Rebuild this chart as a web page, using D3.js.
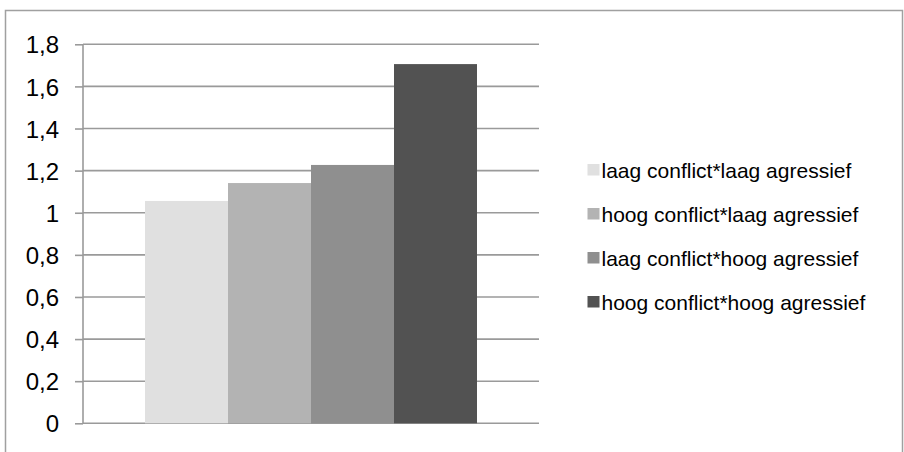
<!DOCTYPE html>
<html>
<head>
<meta charset="utf-8">
<script src="https://cdn.jsdelivr.net/npm/d3@7"></script>
<style>
  html, body { margin: 0; padding: 0; background: #fff; }
  svg { display: block; font-family: "Liberation Sans", Arial, sans-serif; }
</style>
</head>
<body>
<svg id="chart" width="904" height="452"></svg>
<script>
// Series: one bar per combination of conflict and aggression level
const categories = [
  "laag conflict*laag agressief",
  "hoog conflict*laag agressief",
  "laag conflict*hoog agressief",
  "hoog conflict*hoog agressief"
];
const values = [1.056, 1.141, 1.227, 1.706];
const colors = ["#e0e0e0", "#b3b3b3", "#8f8f8f", "#525252"];
const yTicks = [0, 0.2, 0.4, 0.6, 0.8, 1, 1.2, 1.4, 1.6, 1.8];

const svg = d3.select("#chart");

// Outer chart frame
svg.append("rect")
  .attr("x", 5.5).attr("y", 10.5)
  .attr("width", 897).attr("height", 460)
  .attr("fill", "#fff")
  .attr("stroke", "#a0a0a0")
  .attr("stroke-width", 1.5);

const plot = { left: 83, right: 539, top: 44.3, bottom: 423.3 };

const y = d3.scaleLinear().domain([0, 1.8]).range([plot.bottom, plot.top]);
const x = d3.scaleBand()
  .domain(categories)
  .range([145, 477])
  .padding(0);

// Horizontal gridlines
svg.append("g")
  .selectAll("line")
  .data(yTicks)
  .join("line")
  .attr("x1", plot.left).attr("x2", plot.right)
  .attr("y1", d => y(d)).attr("y2", d => y(d))
  .attr("stroke", "#9a9a9a")
  .attr("stroke-width", 1.6);

// Bars
svg.append("g")
  .selectAll("rect")
  .data(categories)
  .join("rect")
  .attr("x", d => x(d))
  .attr("width", x.bandwidth())
  .attr("y", (d, i) => y(values[i]))
  .attr("height", (d, i) => y(0) - y(values[i]))
  .attr("fill", (d, i) => colors[i]);

// Y axis with outward ticks
const yAxis = d3.axisLeft(y)
  .tickValues(yTicks)
  .tickSize(8)
  .tickPadding(16)
  .tickFormat(d => String(d).replace(".", ","));

const ag = svg.append("g")
  .attr("transform", `translate(${plot.left},0)`)
  .call(yAxis);
ag.select(".domain").attr("stroke", "#9a9a9a").attr("stroke-width", 1.6)
  .attr("d", `M0,${plot.top}V${plot.bottom}`);
ag.selectAll(".tick line").attr("stroke", "#9a9a9a").attr("stroke-width", 1.6);
ag.selectAll(".tick text")
  .attr("fill", "#000")
  .attr("dy", "0.36em")
  .style("font-size", "24px")
  .style("font-family", "'Liberation Sans', Arial, sans-serif");

// Legend
const legend = svg.append("g").attr("transform", "translate(587.5,0)");
const legendY = [170, 214, 258, 302];
const items = legend.selectAll("g")
  .data(categories)
  .join("g")
  .attr("transform", (d, i) => `translate(0,${legendY[i]})`);
items.append("rect")
  .attr("x", 0).attr("y", -6)
  .attr("width", 12).attr("height", 11.5)
  .attr("fill", (d, i) => colors[i]);
items.append("text")
  .attr("x", 14).attr("y", 0)
  .attr("dy", "0.36em")
  .style("font-size", "21px")
  .attr("fill", "#000")
  .text(d => d);
</script>
</body>
</html>
